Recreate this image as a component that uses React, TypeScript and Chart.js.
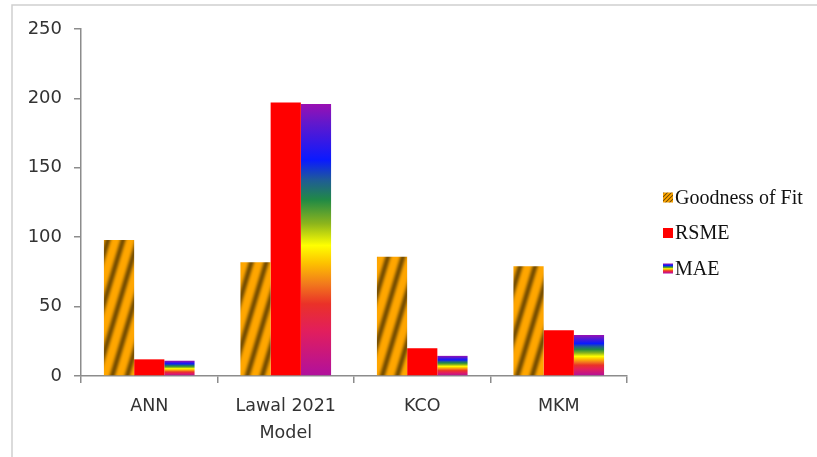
import { useEffect, useRef } from 'react';
import { Chart, registerables } from 'chart.js';

Chart.register(...registerables);

// Model names on the category axis (the second one wraps onto two lines)
const categories: (string | string[])[] = ['ANN', ['Lawal 2021', 'Model'], 'KCO', 'MKM'];

// Series values per model
const goodnessOfFit = [98, 82, 86, 79];
const rsme = [12, 197, 20, 33];
const mae = [11, 196, 14.5, 29.5];

const seriesNames = ['Goodness of Fit', 'RSME', 'MAE'];

// Value axis ticks
const yTicks = [0, 50, 100, 150, 200, 250];

// Rainbow fill for the MAE bars, from the base (0) to the bar top (1)
const rainbowStops: [number, string][] = [
  [0, '#B0109E'],
  [0.166, '#E21E5C'],
  [0.265, '#EA3128'],
  [0.339, '#F27A1C'],
  [0.413, '#FDC000'],
  [0.48, '#FFFF00'],
  [0.56, '#8DB51C'],
  [0.647, '#218A45'],
  [0.72, '#1F5C96'],
  [0.794, '#0A1AFF'],
  [0.93, '#6218CC'],
  [1, '#9A10B2'],
];

const AXIS_GREY = '#8C8C8C';
const TEXT_GREY = '#333333';

// Builds a repeating tile of soft diagonal dark stripes on orange.
function stripePattern(target: CanvasRenderingContext2D, period: number, slope: number, tileH: number) {
  const c = document.createElement('canvas');
  c.width = period;
  c.height = tileH;
  const g = c.getContext('2d')!;
  const img = g.createImageData(period, tileH);
  const light = [255, 166, 0];
  const dark = [122, 80, 0];
  for (let y = 0; y < tileH; y++) {
    for (let x = 0; x < period; x++) {
      let t = ((x + 0.5 + slope * (y + 0.5)) / period) % 1;
      if (t < 0) t += 1;
      const d = Math.pow((1 + Math.cos(2 * Math.PI * t)) / 2, 2);
      const i = (y * period + x) * 4;
      for (let k = 0; k < 3; k++) img.data[i + k] = Math.round(light[k] + (dark[k] - light[k]) * d);
      img.data[i + 3] = 255;
    }
  }
  g.putImageData(img, 0, 0);
  return target.createPattern(c, 'repeat')!;
}

function rainbow(ctx: CanvasRenderingContext2D, bottom: number, top: number) {
  const g = ctx.createLinearGradient(0, bottom, 0, top);
  rainbowStops.forEach(([o, c]) => g.addColorStop(o, c));
  return g;
}

export default function App() {
  const canvasRef = useRef<HTMLCanvasElement | null>(null);

  useEffect(() => {
    const canvas = canvasRef.current;
    if (!canvas) return;
    const ctx2d = canvas.getContext('2d')!;
    const barStripes = stripePattern(ctx2d, 15, 0.3, 50);
    const keyStripes = stripePattern(ctx2d, 4, 1, 4);

    // Thin light frame along the top and left edges
    const framePlugin = {
      id: 'frame',
      beforeDraw(chart: Chart) {
        const { ctx, width, height } = chart;
        ctx.save();
        ctx.fillStyle = '#ffffff';
        ctx.fillRect(0, 0, width, height);
        ctx.strokeStyle = '#D0D0D0';
        ctx.lineWidth = 1.5;
        ctx.beginPath();
        ctx.moveTo(12, height);
        ctx.lineTo(12, 5);
        ctx.lineTo(width, 5);
        ctx.stroke();
        ctx.restore();
      },
    };

    // Series key to the right of the plot
    const keyPlugin = {
      id: 'seriesKey',
      afterDraw(chart: Chart) {
        const { ctx, chartArea } = chart;
        const x = chartArea.right + 36;
        let y = chartArea.top + 168.5;
        ctx.save();
        seriesNames.forEach((name, i) => {
          if (i === 0) ctx.fillStyle = keyStripes;
          else if (i === 1) ctx.fillStyle = '#FF0000';
          else ctx.fillStyle = rainbow(ctx, y + 5, y - 5);
          ctx.fillRect(x, y - 5, 10, 10);
          ctx.fillStyle = '#111111';
          ctx.font = '20px "Liberation Serif", "Times New Roman", serif';
          ctx.textBaseline = 'middle';
          ctx.textAlign = 'left';
          ctx.fillText(name, x + 12, y + 1);
          y += 35.5;
        });
        ctx.restore();
      },
    };

    const chart = new Chart(canvas, {
      type: 'bar',
      data: {
        labels: categories,
        datasets: [
          {
            label: seriesNames[0],
            data: goodnessOfFit,
            backgroundColor: barStripes,
            borderWidth: 0,
          },
          {
            label: seriesNames[1],
            data: rsme,
            backgroundColor: '#FF0000',
            borderWidth: 0,
          },
          {
            label: seriesNames[2],
            data: mae,
            borderWidth: 0,
            backgroundColor: (c: any) => {
              const ch = c.chart as Chart;
              const ys = ch.scales && (ch.scales as any).y;
              if (c.type !== 'data' || !ys) return '#7030A0';
              const top = ys.getPixelForValue(c.raw as number);
              const bottom = ys.getPixelForValue(0);
              if (!Number.isFinite(top) || !Number.isFinite(bottom) || top === bottom) return '#7030A0';
              return rainbow(ch.ctx, bottom, top);
            },
          },
        ],
      },
      options: {
        responsive: false,
        animation: false,
        devicePixelRatio: 1,
        layout: { padding: { left: 0, right: 190, top: 29, bottom: 0 } },
        datasets: {
          bar: { categoryPercentage: 0.664, barPercentage: 1 },
        },
        plugins: {
          legend: { display: false },
          tooltip: { enabled: false },
        },
        scales: {
          x: {
            offset: true,
            afterFit: (s: any) => {
              s.height = 81;
            },
            grid: {
              display: true,
              offset: true,
              drawOnChartArea: false,
              drawTicks: true,
              tickLength: 7,
              color: AXIS_GREY,
              lineWidth: 1.5,
            },
            border: { display: true, color: AXIS_GREY, width: 1.5 },
            ticks: {
              autoSkip: false,
              maxRotation: 0,
              padding: 10,
              color: TEXT_GREY,
              font: { family: '"DejaVu Sans", sans-serif', size: 17.5, lineHeight: 1.55 },
            },
          },
          y: {
            min: yTicks[0],
            max: yTicks[yTicks.length - 1],
            afterFit: (s: any) => {
              s.width = 81;
            },
            grid: {
              display: true,
              drawOnChartArea: false,
              drawTicks: true,
              tickLength: 7,
              color: AXIS_GREY,
              lineWidth: 1.5,
            },
            border: { display: true, color: AXIS_GREY, width: 1.5 },
            ticks: {
              stepSize: yTicks[1] - yTicks[0],
              padding: 12,
              color: TEXT_GREY,
              font: { family: '"DejaVu Sans", sans-serif', size: 18 },
            },
          },
        },
      },
      plugins: [framePlugin, keyPlugin],
    });

    return () => chart.destroy();
  }, []);

  return (
    <div style={{ position: 'fixed', left: 0, top: 0, width: 817, height: 457, background: '#fff' }}>
      <canvas ref={canvasRef} width={817} height={457} style={{ display: 'block' }} />
    </div>
  );
}
